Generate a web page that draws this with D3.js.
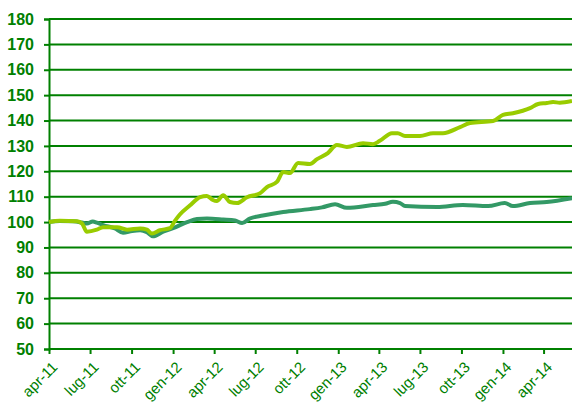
<!DOCTYPE html>
<html>
<head>
<meta charset="utf-8">
<script src="https://cdn.jsdelivr.net/npm/d3@7"></script>
<style>
  body { margin: 0; background: #fff; }
  svg text { font-family: "Liberation Sans", Arial, sans-serif; fill: #008000; }
</style>
</head>
<body>
<script>
// series (index, base 100 = apr-11)
var lightDates = ["2011-04-01","2011-04-25","2011-06-02","2011-06-13","2011-06-24","2011-07-16","2011-07-30","2011-08-30","2011-09-21","2011-10-20","2011-11-04","2011-11-15","2011-12-03","2011-12-25","2012-01-05","2012-01-16","2012-02-07","2012-03-01","2012-03-16","2012-03-29","2012-04-07","2012-04-21","2012-05-06","2012-05-22","2012-06-13","2012-07-12","2012-07-27","2012-08-18","2012-09-01","2012-09-16","2012-10-04","2012-10-30","2012-11-15","2012-12-09","2012-12-29","2013-01-20","2013-02-25","2013-03-19","2013-04-03","2013-04-30","2013-05-13","2013-05-29","2013-07-01","2013-07-30","2013-08-21","2013-09-28","2013-10-20","2013-12-10","2014-01-01","2014-01-23","2014-03-02","2014-03-20","2014-04-08","2014-04-22","2014-05-07","2014-06-03"];
var lightValues = [100,100.5,100.3,99.5,96.2,97,98,98,97,97.5,97,95.5,96.8,97.6,100.5,103,106.5,109.8,110.3,108.7,108.3,110.6,107.9,107.5,109.8,111.4,113.8,115.8,119.7,119.3,123.3,122.9,124.8,127.2,130.4,129.6,131.1,130.7,132,135,135,133.9,133.9,135,135,137.4,139,139.8,142.2,142.9,144.9,146.5,146.9,147.3,147,147.7];

var darkDates = ["2011-04-01","2011-04-25","2011-05-24","2011-06-13","2011-06-24","2011-07-07","2011-07-16","2011-07-30","2011-08-25","2011-09-12","2011-10-02","2011-10-20","2011-11-04","2011-11-17","2011-12-10","2012-01-01","2012-02-01","2012-02-23","2012-03-16","2012-04-21","2012-05-17","2012-06-02","2012-06-19","2012-07-18","2012-09-01","2012-10-30","2012-11-26","2012-12-25","2013-01-20","2013-03-19","2013-04-15","2013-05-02","2013-05-18","2013-05-29","2013-08-08","2013-10-04","2013-11-29","2014-01-05","2014-01-23","2014-03-02","2014-04-08","2014-06-03"];
var darkValues = [100,100.4,100.3,99.8,99.4,100.2,99.8,98.8,97.5,95.8,96.5,96.8,96,94.4,96.2,97.6,100,101.2,101.4,101,100.6,99.6,101.4,102.6,104,105.1,105.8,107,105.6,106.7,107.2,108,107.5,106.3,105.9,106.7,106.3,107.5,106.3,107.5,107.9,109.4];

var tickDates = ["2011-04-01","2011-07-01","2011-10-01","2012-01-01","2012-04-01","2012-07-01","2012-10-01","2013-01-01","2013-04-01","2013-07-01","2013-10-01","2014-01-01","2014-04-01"];
var tickLabels = ["apr-11","lug-11","ott-11","gen-12","apr-12","lug-12","ott-12","gen-13","apr-13","lug-13","ott-13","gen-14","apr-14"];
var yTicks = [50,60,70,80,90,100,110,120,130,140,150,160,170,180];

var margin = {top: 19, right: 0, bottom: 54, left: 49},
    width = 572 - margin.left - margin.right,
    height = 403 - margin.top - margin.bottom;

var parseDate = d3.timeParse("%Y-%m-%d");

var x = d3.scaleTime()
    .domain([parseDate("2011-04-01"), parseDate("2014-06-03")])
    .range([0, width]);

var y = d3.scaleLinear()
    .domain([50, 180])
    .range([height, 0]);

var svg = d3.select("body").append("svg")
    .attr("width", 572)
    .attr("height", 403)
  .append("g")
    .attr("transform", "translate(" + margin.left + "," + margin.top + ")");

// grid lines
svg.append("g")
    .selectAll("line")
    .data(yTicks)
  .enter().append("line")
    .attr("x1", 0)
    .attr("x2", width)
    .attr("y1", function(d) { return y(d); })
    .attr("y2", function(d) { return y(d); })
    .attr("stroke", "#008000")
    .attr("stroke-width", 2);

var yAxis = d3.axisLeft(y)
    .tickValues(yTicks)
    .tickSize(5)
    .tickPadding(10);

var gy = svg.append("g").attr("class", "y axis").call(yAxis);
gy.select(".domain").attr("stroke", "#008000").attr("stroke-width", 2);
gy.selectAll(".tick line").attr("stroke", "#008000").attr("stroke-width", 2);
gy.selectAll(".tick text")
    .style("font-size", "16px")
    .style("font-weight", "bold")
    .attr("fill", "#008000");

var xAxis = d3.axisBottom(x)
    .tickValues(tickDates.map(parseDate))
    .tickSize(5)
    .tickFormat(function(d, i) { return tickLabels[i]; });

var gx = svg.append("g")
    .attr("class", "x axis")
    .attr("transform", "translate(0," + height + ")")
    .call(xAxis);
gx.select(".domain").attr("stroke", "#008000").attr("stroke-width", 2).attr("d", "M0,0H" + width);
gx.selectAll(".tick line").attr("stroke", "#008000").attr("stroke-width", 2);
gx.selectAll(".tick text")
    .style("font-size", "15px")
    .style("text-anchor", "end")
    .attr("fill", "#008000")
    .attr("dy", null)
    .attr("y", 0)
    .attr("transform", "translate(9,19) rotate(-45)");

var line = d3.line()
    .x(function(d) { return x(d.date); })
    .y(function(d) { return y(d.value); })
    .curve(d3.curveMonotoneX);

function toSeries(dates, values) {
  return dates.map(function(d, i) { return {date: parseDate(d), value: values[i]}; });
}

svg.append("path")
    .datum(toSeries(darkDates, darkValues))
    .attr("fill", "none")
    .attr("stroke", "#339966")
    .attr("stroke-width", 4)
    .attr("stroke-linejoin", "round")
    .attr("d", line);

svg.append("path")
    .datum(toSeries(lightDates, lightValues))
    .attr("fill", "none")
    .attr("stroke", "#99cc00")
    .attr("stroke-width", 4)
    .attr("stroke-linejoin", "round")
    .attr("d", line);
</script>
</body>
</html>
